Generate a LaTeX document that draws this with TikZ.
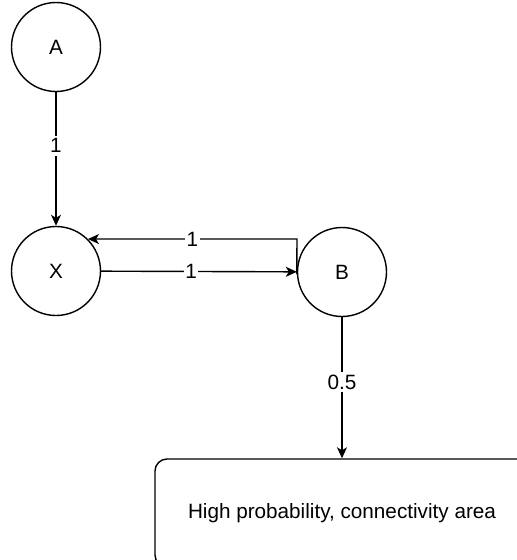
\documentclass[tikz,border=0pt]{standalone}
\usepackage{fontspec}
\setmainfont{Liberation Sans}
\usetikzlibrary{arrows.meta}
\begin{document}
\begin{tikzpicture}[x=1pt,y=-1pt,
  every node/.style={font=\fontsize{20.7}{24}\selectfont},
  state/.style={circle,draw,line width=1.4pt,minimum size=89pt,inner sep=0pt},
  area/.style={draw,line width=1.4pt,rounded corners=12pt,minimum width=374pt,minimum height=108pt,inner sep=0pt},
  conn/.style={line width=1.4pt,-{Stealth[length=11pt,width=10pt,inset=3pt]}},
  lbl/.style={fill=white,inner xsep=1.5pt,inner ysep=3pt}]
\useasboundingbox (0,0) rectangle (517,560);
\clip (0,0) rectangle (517,560);
\node[state] (A) at (56,47) {A};
\node[state] (X) at (56,271) {X};
\node[state] (B) at (342,272) {B};
\node[area] (H) at (342,513) {High probability, connectivity area};
\coordinate (bx) at (297,239);
\draw[conn] (A) -- node[lbl,pos=0.4] {1} (X);
\draw[conn] (X) -- node[lbl,pos=0.46] {1} (B);
\draw[conn] ([yshift=-2pt]B.west) -- (bx) -- node[lbl,pos=0.5] {1} (X.{45});
\draw[conn] (B) -- node[lbl,pos=0.46] {0.5} (H.north);
\end{tikzpicture}
\end{document}
